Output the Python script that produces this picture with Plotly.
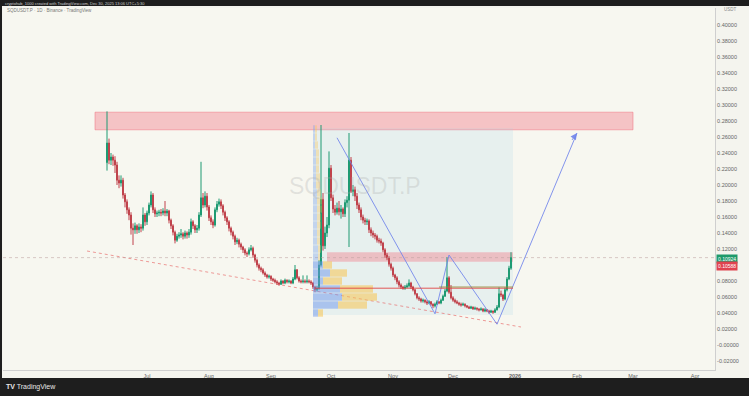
import pandas as pd
import plotly.graph_objects as go

# ---------------- data ----------------
dates = pd.date_range("2025-06-11", "2025-12-30", freq="D")
first_open = 0.228
close = [
    0.2525, 0.231, 0.235, 0.231, 0.225, 0.206, 0.2025, 0.206, 0.1875, 0.179,
    0.169, 0.1625, 0.146, 0.144, 0.149, 0.144, 0.1475, 0.146, 0.1625, 0.154,
    0.165, 0.175, 0.1875, 0.169, 0.164, 0.165, 0.166, 0.165, 0.1675, 0.165,
    0.1675, 0.156, 0.149, 0.141, 0.131, 0.136, 0.1375, 0.139, 0.136, 0.140,
    0.1375, 0.141, 0.154, 0.149, 0.144, 0.146, 0.1625, 0.184, 0.175, 0.186,
    0.1725, 0.159, 0.154, 0.150, 0.169, 0.176, 0.179, 0.174, 0.166, 0.159,
    0.154, 0.146, 0.141, 0.136, 0.129, 0.131, 0.126, 0.1225, 0.119, 0.115,
    0.114, 0.119, 0.121, 0.1125, 0.106, 0.100, 0.096, 0.094, 0.090, 0.0875,
    0.085, 0.086, 0.0825, 0.081, 0.079, 0.0775, 0.076, 0.080, 0.0775, 0.081,
    0.079, 0.080, 0.0775, 0.0825, 0.094, 0.084, 0.080, 0.079, 0.080, 0.079,
    0.080, 0.079, 0.0775, 0.0725, 0.069, 0.071, 0.100, 0.182, 0.124, 0.140,
    0.150, 0.221, 0.184, 0.170, 0.166, 0.171, 0.1665, 0.170, 0.164, 0.178,
    0.181, 0.231, 0.192, 0.194, 0.186, 0.175, 0.169, 0.160, 0.156, 0.154,
    0.155, 0.144, 0.140, 0.1375, 0.136, 0.131, 0.130, 0.1275, 0.119, 0.1125,
    0.109, 0.101, 0.096, 0.0875, 0.084, 0.079, 0.075, 0.0725, 0.071, 0.0725,
    0.074, 0.0775, 0.0725, 0.069, 0.064, 0.059, 0.0575, 0.055, 0.056, 0.054,
    0.0525, 0.054, 0.051, 0.049, 0.051, 0.054, 0.0525, 0.056, 0.061, 0.0675,
    0.084, 0.066, 0.059, 0.056, 0.054, 0.0525, 0.051, 0.050, 0.051, 0.049,
    0.0475, 0.046, 0.0475, 0.045, 0.046, 0.045, 0.044, 0.045, 0.0425, 0.044,
    0.0425, 0.041, 0.0425, 0.041, 0.044, 0.0475, 0.064, 0.0625, 0.0575, 0.069,
    0.0825, 0.096, 0.10924,
]
high = [
    0.292, 0.258, 0.240, 0.238, 0.236, 0.229, 0.212, 0.212, 0.209, 0.190,
    0.182, 0.172, 0.166, 0.152, 0.153, 0.151, 0.152, 0.151, 0.172, 0.165,
    0.168, 0.178, 0.192, 0.190, 0.172, 0.168, 0.169, 0.170, 0.171, 0.180,
    0.170, 0.169, 0.158, 0.151, 0.143, 0.139, 0.141, 0.145, 0.141, 0.143,
    0.142, 0.145, 0.158, 0.156, 0.151, 0.150, 0.166, 0.229, 0.190, 0.192,
    0.190, 0.175, 0.162, 0.157, 0.172, 0.180, 0.183, 0.182, 0.176, 0.168,
    0.161, 0.156, 0.148, 0.143, 0.138, 0.134, 0.133, 0.128, 0.124, 0.121,
    0.117, 0.122, 0.125, 0.123, 0.114, 0.108, 0.102, 0.098, 0.096, 0.092,
    0.089, 0.088, 0.087, 0.084, 0.083, 0.081, 0.079, 0.082, 0.081, 0.083,
    0.082, 0.082, 0.081, 0.085, 0.100, 0.095, 0.086, 0.082, 0.087, 0.082,
    0.087, 0.082, 0.081, 0.079, 0.074, 0.074, 0.106, 0.275, 0.190, 0.148,
    0.160, 0.242, 0.225, 0.188, 0.175, 0.178, 0.180, 0.175, 0.172, 0.182,
    0.186, 0.265, 0.235, 0.200, 0.198, 0.190, 0.178, 0.172, 0.163, 0.159,
    0.158, 0.157, 0.147, 0.143, 0.140, 0.138, 0.134, 0.133, 0.129, 0.121,
    0.115, 0.111, 0.103, 0.098, 0.089, 0.086, 0.081, 0.077, 0.074, 0.075,
    0.077, 0.082, 0.079, 0.074, 0.070, 0.065, 0.061, 0.059, 0.058, 0.057,
    0.056, 0.056, 0.055, 0.052, 0.053, 0.056, 0.055, 0.058, 0.063, 0.070,
    0.110, 0.086, 0.075, 0.061, 0.058, 0.056, 0.054, 0.053, 0.053, 0.052,
    0.050, 0.049, 0.049, 0.048, 0.048, 0.047, 0.046, 0.047, 0.046, 0.046,
    0.045, 0.044, 0.044, 0.043, 0.046, 0.050, 0.072, 0.068, 0.064, 0.072,
    0.085, 0.099, 0.116,
]
low = [
    0.218, 0.226, 0.225, 0.224, 0.215, 0.200, 0.196, 0.198, 0.183, 0.172,
    0.164, 0.156, 0.138, 0.125, 0.139, 0.139, 0.140, 0.141, 0.143, 0.149,
    0.150, 0.162, 0.172, 0.165, 0.160, 0.160, 0.161, 0.161, 0.162, 0.161,
    0.161, 0.152, 0.145, 0.137, 0.127, 0.129, 0.133, 0.134, 0.132, 0.133,
    0.133, 0.134, 0.138, 0.145, 0.140, 0.140, 0.143, 0.160, 0.171, 0.172,
    0.168, 0.155, 0.150, 0.146, 0.148, 0.166, 0.173, 0.170, 0.162, 0.155,
    0.150, 0.142, 0.137, 0.132, 0.125, 0.126, 0.122, 0.119, 0.115, 0.112,
    0.110, 0.112, 0.117, 0.109, 0.103, 0.097, 0.093, 0.091, 0.088, 0.085,
    0.083, 0.083, 0.080, 0.079, 0.077, 0.075, 0.074, 0.075, 0.076, 0.076,
    0.077, 0.077, 0.076, 0.076, 0.081, 0.082, 0.078, 0.077, 0.077, 0.077,
    0.077, 0.077, 0.075, 0.070, 0.066, 0.067, 0.069, 0.098, 0.118, 0.120,
    0.135, 0.146, 0.180, 0.165, 0.162, 0.163, 0.162, 0.158, 0.160, 0.160,
    0.172, 0.1225, 0.190, 0.186, 0.180, 0.170, 0.165, 0.156, 0.152, 0.150,
    0.150, 0.140, 0.136, 0.134, 0.132, 0.128, 0.127, 0.124, 0.116, 0.109,
    0.106, 0.098, 0.093, 0.085, 0.081, 0.076, 0.072, 0.070, 0.069, 0.069,
    0.071, 0.072, 0.070, 0.067, 0.062, 0.057, 0.055, 0.053, 0.053, 0.052,
    0.050, 0.051, 0.049, 0.046, 0.047, 0.050, 0.051, 0.051, 0.055, 0.060,
    0.066, 0.064, 0.057, 0.054, 0.052, 0.051, 0.049, 0.048, 0.049, 0.047,
    0.046, 0.045, 0.045, 0.044, 0.044, 0.043, 0.042, 0.043, 0.041, 0.041,
    0.041, 0.039, 0.040, 0.039, 0.040, 0.043, 0.046, 0.060, 0.055, 0.056,
    0.067, 0.081, 0.094,
]
open_ = [first_open] + close[:-1]

# volume profile (fixed range) rows: price centre, up volume, down volume
vp_price = [0.04, 0.05, 0.06, 0.07, 0.08, 0.09, 0.10, 0.11, 0.12, 0.13, 0.14, 0.15,
            0.16, 0.17, 0.18, 0.19, 0.20, 0.21, 0.22, 0.23, 0.24, 0.25, 0.26, 0.27]
vp_up = [5, 25, 29, 27, 10, 17, 10, 5, 5, 4, 4, 4, 4, 4, 4, 4, 3, 3, 3, 3, 3, 2, 2, 2]
vp_down = [5, 29, 35, 33, 19, 17, 9, 2, 3, 3, 3, 4, 4, 5, 5, 4, 4, 4, 3, 3, 3, 3, 2, 2]
vp_value_area = [0.04, 0.10]   # rows inside the value area are drawn stronger

# drawings
supply_zone = ["2025-06-05", "2026-03-01", 0.269, 0.291]
range_box = ["2025-09-22", "2025-12-31", 0.0375, 0.271]
resist_zone = ["2025-09-29", "2025-12-31", 0.104, 0.116]
poc_line = ["2025-09-23", "2025-12-31", 0.071]
olive_line = ["2025-11-24", "2025-12-31", 0.0725]
trend_x = ["2025-06-01", "2026-01-04"]
trend_y = [0.1175, 0.0225]
path_x = ["2025-10-04", "2025-11-22", "2025-11-29", "2025-12-23", "2026-02-01"]
path_y = [0.259, 0.039, 0.1125, 0.026, 0.265]
last_price = 0.10924
label_prices = ["0.10924", "0.10588"]

y_ticks = [round(-0.02 + 0.02 * i, 2) for i in range(22)]
y_ticktext = ["-0.02000", "-0.00000"] + [f"{v:.5f}" for v in y_ticks[2:]]
x_tickvals = ["2025-07-01", "2025-08-01", "2025-09-01", "2025-10-01", "2025-11-01",
              "2025-12-01", "2026-01-01", "2026-02-01", "2026-03-01", "2026-04-01"]
x_ticktext = ["Jul", "Aug", "Sep", "Oct", "Nov", "Dec", "<b>2026</b>", "Feb", "Mar", "Apr"]

# ---------------- figure ----------------
W, H = 749, 396
ML, MR, MT, MB = 3, 34, 8, 26
PW, PH = W - ML - MR, H - MT - MB

def px_x(p):
    return (p - ML) / PW

def px_y(p):
    return (H - MB - p) / PH

fig = go.Figure()

in_va = [vp_value_area[0] <= p <= vp_value_area[1] + 1e-9 for p in vp_price]
up_cols = ["rgba(110,150,235,0.5)" if v else "rgba(110,150,235,0.3)" for v in in_va]
dn_cols = ["rgba(248,196,80,0.55)" if v else "rgba(248,196,80,0.35)" for v in in_va]

vp_base_shift = 310
fig.add_trace(go.Bar(
    y=vp_price, x=vp_up, base=[0] * len(vp_up), orientation="h", xaxis="x2", yaxis="y",
    width=0.0092, marker=dict(color=up_cols, line=dict(width=0)),
    hoverinfo="skip", showlegend=False))
fig.add_trace(go.Bar(
    y=vp_price, x=vp_down, base=vp_up, orientation="h", xaxis="x2", yaxis="y",
    width=0.0092, marker=dict(color=dn_cols, line=dict(width=0)),
    hoverinfo="skip", showlegend=False))

# dotted trend line
fig.add_trace(go.Scatter(x=trend_x, y=trend_y, mode="lines",
                         line=dict(color="rgba(230,90,90,0.6)", width=1, dash="dot"),
                         hoverinfo="skip", showlegend=False))
# price line
fig.add_trace(go.Scatter(x=["2025-04-20", "2026-04-11"], y=[last_price, last_price], mode="lines",
                         line=dict(color="rgba(190,160,160,0.55)", width=1, dash="dot"),
                         hoverinfo="skip", showlegend=False))

# candles
fig.add_trace(go.Candlestick(
    x=dates, open=open_, high=high, low=low, close=close,
    increasing=dict(line=dict(color="#1e9a72", width=1), fillcolor="#1e9a72"),
    decreasing=dict(line=dict(color="#c0434c", width=1), fillcolor="#c0434c"),
    whiskerwidth=0, showlegend=False, hoverinfo="skip"))

# blue projection path
fig.add_trace(go.Scatter(x=path_x, y=path_y, mode="lines",
                         line=dict(color="rgba(110,130,235,0.85)", width=1),
                         hoverinfo="skip", showlegend=False))

shapes = [
    dict(type="rect", xref="x", yref="y", x0=supply_zone[0], x1=supply_zone[1],
         y0=supply_zone[2], y1=supply_zone[3], fillcolor="rgba(242,110,125,0.38)",
         line=dict(color="rgba(242,110,125,0.5)", width=1), layer="below"),
    dict(type="rect", xref="x", yref="y", x0=range_box[0], x1=range_box[1],
         y0=range_box[2], y1=range_box[3], fillcolor="rgba(160,210,235,0.18)",
         line=dict(width=0), layer="below"),
    dict(type="rect", xref="x", yref="y", x0=resist_zone[0], x1=resist_zone[1],
         y0=resist_zone[2], y1=resist_zone[3], fillcolor="rgba(242,110,125,0.38)",
         line=dict(width=0), layer="below"),
    dict(type="line", xref="x", yref="y", x0=poc_line[0], x1=poc_line[1],
         y0=poc_line[2], y1=poc_line[2], line=dict(color="rgba(225,60,60,0.85)", width=1)),
    dict(type="line", xref="x", yref="y", x0=olive_line[0], x1=olive_line[1],
         y0=olive_line[2], y1=olive_line[2], line=dict(color="rgba(150,140,60,0.85)", width=1)),
    # top and bottom dark bars
    dict(type="rect", xref="paper", yref="paper", x0=px_x(0), x1=px_x(W), y0=px_y(6), y1=px_y(0),
         fillcolor="#1e1e1e", line=dict(width=0), layer="above"),
    dict(type="rect", xref="paper", yref="paper", x0=px_x(0), x1=px_x(W), y0=px_y(H), y1=px_y(378),
         fillcolor="#1e1e1e", line=dict(width=0), layer="above"),
    dict(type="rect", xref="paper", yref="paper", x0=px_x(0), x1=px_x(2), y0=px_y(H), y1=px_y(0),
         fillcolor="#1e1e1e", line=dict(width=0), layer="above"),
]

annotations = [
    dict(text="SQDUSDT.P", xref="paper", yref="paper", x=px_x(355), y=px_y(186),
         showarrow=False, font=dict(size=23, color="rgba(170,170,170,0.28)", family="Liberation Sans")),
    dict(text="cryptohub_1000 created with TradingView.com, Dec 30, 2025 13:06 UTC+5:30",
         xref="paper", yref="paper", x=px_x(3), y=px_y(3), xanchor="left", yanchor="middle",
         showarrow=False, font=dict(size=4, color="#cfcfcf", family="Liberation Sans")),
    dict(text="SQDUSDT.P · 1D · Binance · TradingView", xref="paper", yref="paper",
         x=px_x(5), y=px_y(10.5), xanchor="left", yanchor="middle", showarrow=False,
         font=dict(size=4.5, color="#777", family="Liberation Sans")),
    dict(text="USDT", xref="paper", yref="paper", x=px_x(722), y=px_y(10), xanchor="left",
         yanchor="middle", showarrow=False, font=dict(size=4.5, color="#888", family="Liberation Sans")),
    dict(text="<b>TV</b> TradingView", xref="paper", yref="paper", x=px_x(4), y=px_y(387),
         xanchor="left", yanchor="middle", showarrow=False,
         font=dict(size=7, color="#e8e8e8", family="Liberation Sans")),
    dict(text=label_prices[0], xref="paper", yref="paper", x=px_x(716), y=px_y(259),
         xanchor="left", yanchor="middle", showarrow=False, bgcolor="#1e9a6a",
         borderpad=1, font=dict(size=5, color="white", family="Liberation Sans")),
    dict(text=label_prices[1], xref="paper", yref="paper", x=px_x(716), y=px_y(265.5),
         xanchor="left", yanchor="middle", showarrow=False, bgcolor="#e0434f",
         borderpad=1, font=dict(size=5, color="white", family="Liberation Sans")),
    dict(x=path_x[-1], y=path_y[-1], ax="2026-01-29", ay=0.2545, xref="x", yref="y",
         axref="x", ayref="y", text="", showarrow=True, arrowhead=2, arrowsize=1.3,
         arrowwidth=1, arrowcolor="rgba(110,130,235,0.9)"),
]

fig.update_layout(
    width=W, height=H,
    margin=dict(l=ML, r=MR, t=MT, b=MB, pad=0),
    paper_bgcolor="#f4f4ee",
    plot_bgcolor="#f7f7f0",
    barmode="overlay",
    shapes=shapes,
    annotations=annotations,
    xaxis=dict(type="date", range=["2025-04-20", "2026-04-11"], rangeslider=dict(visible=False),
               tickvals=x_tickvals, ticktext=x_ticktext, showgrid=False, zeroline=False,
               showline=True, linecolor="#cfcfcf", linewidth=1, ticks="",
               tickfont=dict(size=5.5, color="#666", family="Liberation Sans")),
    xaxis2=dict(overlaying="x", range=[-vp_base_shift, PW - vp_base_shift], visible=False,
                anchor="y"),
    yaxis=dict(side="right", range=[(345 - (H - MB)) / 800, (345 - MT) / 800], showgrid=False,
               zeroline=False, showline=True, linecolor="#cfcfcf", linewidth=1, ticks="",
               tickvals=y_ticks, ticktext=y_ticktext,
               tickfont=dict(size=5.5, color="#666", family="Liberation Sans")),
    showlegend=False,
    font=dict(family="Liberation Sans"),
)

fig.write_html("out.html")
